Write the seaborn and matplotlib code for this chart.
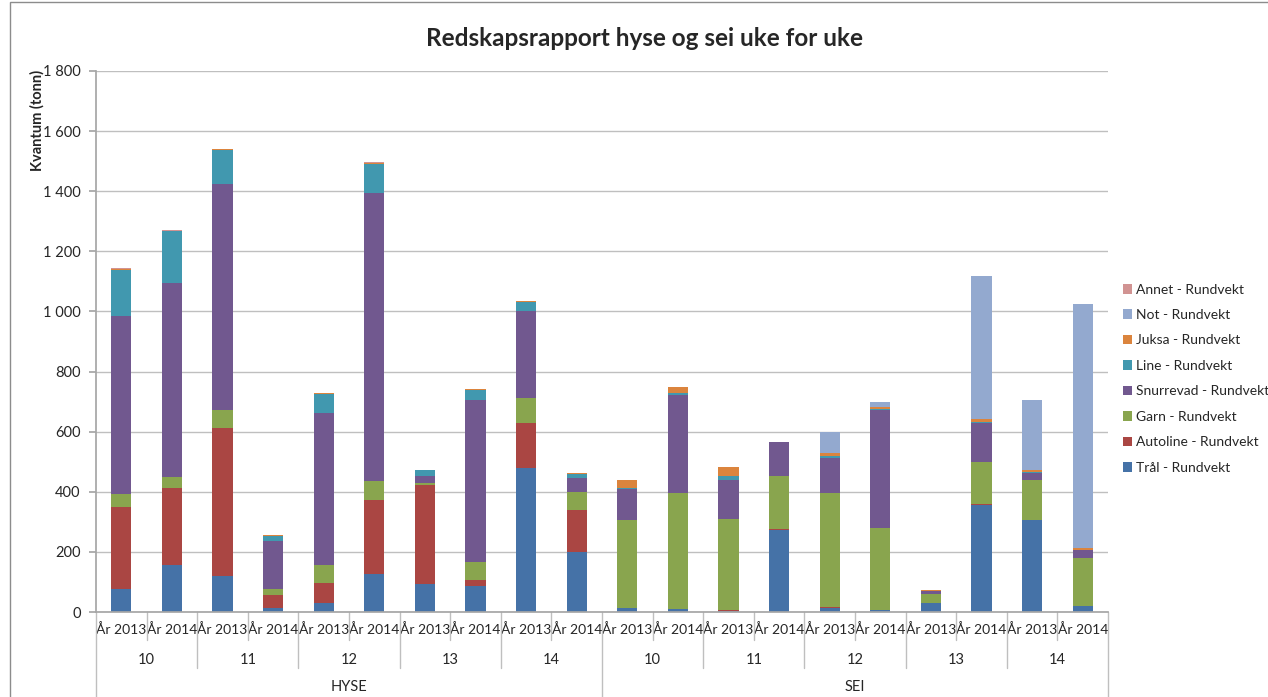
import pandas as pd
import seaborn as sns
import matplotlib.pyplot as plt
from matplotlib.patches import Rectangle

# x categories: species -> week -> year
species = ["HYSE", "SEI"]
weeks = ["10", "11", "12", "13", "14"]
years = ["År 2013", "År 2014"]

# tonnes per gear, ordered HYSE 10 2013, HYSE 10 2014, ... SEI 14 2014
tral = [75, 155, 120, 12, 30, 128, 94, 85, 480, 200,
        14, 10, 4, 272, 12, 8, 31, 356, 305, 21]
autoline = [275, 258, 492, 44, 65, 245, 330, 22, 149, 141,
            0, 0, 4, 3, 3, 0, 0, 2, 0, 0]
garn = [42, 36, 60, 21, 62, 62, 6, 61, 83, 58,
        291, 385, 300, 178, 382, 272, 28, 141, 135, 160]
snurrevad = [592, 645, 752, 159, 504, 960, 23, 538, 290, 46,
             103, 327, 131, 111, 116, 391, 11, 131, 21, 24]
line = [155, 172, 112, 16, 63, 97, 18, 32, 30, 15,
        3, 5, 12, 0, 5, 4, 1, 2, 4, 2]
juksa = [3, 3, 3, 3, 3, 3, 2, 3, 2, 3,
         29, 21, 31, 3, 11, 6, 3, 10, 6, 7]
not_ = [0, 0, 0, 0, 0, 0, 0, 0, 0, 0,
        0, 0, 0, 0, 71, 18, 0, 477, 234, 812]
annet = [1, 1, 1, 1, 1, 1, 1, 1, 1, 1,
         0, 0, 0, 0, 0, 0, 0, 0, 0, 0]

gears = ["Trål - Rundvekt", "Autoline - Rundvekt", "Garn - Rundvekt",
         "Snurrevad - Rundvekt", "Line - Rundvekt", "Juksa - Rundvekt",
         "Not - Rundvekt", "Annet - Rundvekt"]
colors = ["#4572A7", "#AA4643", "#89A54E", "#71588F",
          "#4198AF", "#DB843D", "#93A9CF", "#D19392"]

sns.set_theme(style="white")
plt.rcParams["font.family"] = ["Lato", "DejaVu Sans"]

df = pd.DataFrame({g: v for g, v in zip(gears, [tral, autoline, garn, snurrevad,
                                              line, juksa, not_, annet])})
df["slot"] = range(len(df))
cum = df[gears].cumsum(axis=1)
cum["slot"] = df["slot"]

fig = plt.figure(figsize=(12.68, 6.97), dpi=100)
ax = fig.add_axes([96 / 1268, 85 / 697, 1012 / 1268, 541 / 697])

# stacked bars: draw cumulative totals from the top segment down
for g, c in zip(gears[::-1], colors[::-1]):
    sns.barplot(data=cum, x="slot", y=g, color=c, saturation=1, width=0.4,
                linewidth=0, label=g, ax=ax)

n = len(df)
ax.set_xlim(-0.5, n - 0.5)
ax.set_ylim(0, 1800)
ax.set_yticks(range(0, 1801, 200))
ax.set_yticklabels([f"{v:,}".replace(",", " ") for v in range(0, 1801, 200)],
                   fontsize=10.5)
ax.yaxis.grid(True, color="#BFBFBF", lw=1)
ax.set_axisbelow(True)
ax.set_xlabel("")
ax.set_ylabel("")
ax.tick_params(axis="y", length=5, color="#A6A6A6", pad=6, left=True)
ax.tick_params(axis="x", length=0, pad=8)
labels = [y for s in species for w in weeks for y in years]
ax.set_xticks(range(n))
ax.set_xticklabels(labels, fontsize=10)
for s in ["top", "right"]:
    ax.spines[s].set_visible(False)
for s in ["left", "bottom"]:
    ax.spines[s].set_color("#A6A6A6")

# multi-level category axis separators and labels
tr = ax.get_xaxis_transform()
for k in range(n + 1):
    x = k - 0.5
    if k % 10 == 0:
        y1 = -0.157
    elif k % 2 == 0:
        y1 = -0.1035
    else:
        y1 = -0.052
    ax.plot([x, x], [0, y1], transform=tr, color="#BFBFBF", lw=1, clip_on=False)
for i, w in enumerate(weeks * 2):
    ax.text(2 * i + 0.5, -0.0887, w, transform=tr, ha="center", va="center",
            fontsize=10.5)
for i, s in enumerate(species):
    ax.text(10 * i + 4.5, -0.139, s, transform=tr, ha="center", va="center",
            fontsize=10.5)

ax.legend(loc="upper left", bbox_to_anchor=(1110 / 1268, 1 - 271 / 697),
          bbox_transform=fig.transFigure, frameon=False, fontsize=10,
          handlelength=0.7, handleheight=0.7, handletextpad=0.3,
          labelspacing=0.97)

fig.text(645 / 1268, 1 - 38 / 697, "Redskapsrapport hyse og sei uke for uke",
         ha="center", va="center", fontsize=17.5, fontweight="bold")
fig.text(37 / 1268, 1 - 70 / 697, "Kvantum (tonn)", rotation=90,
         ha="center", va="top", fontsize=10.5, fontweight="bold")
fig.patches.append(Rectangle((10 / 1268, -0.01), 1.0, 1.01 - 2 / 697,
                             fill=False, edgecolor="#8C8C8C", lw=1,
                             transform=fig.transFigure, figure=fig))

fig.savefig("out.png", dpi=100)
